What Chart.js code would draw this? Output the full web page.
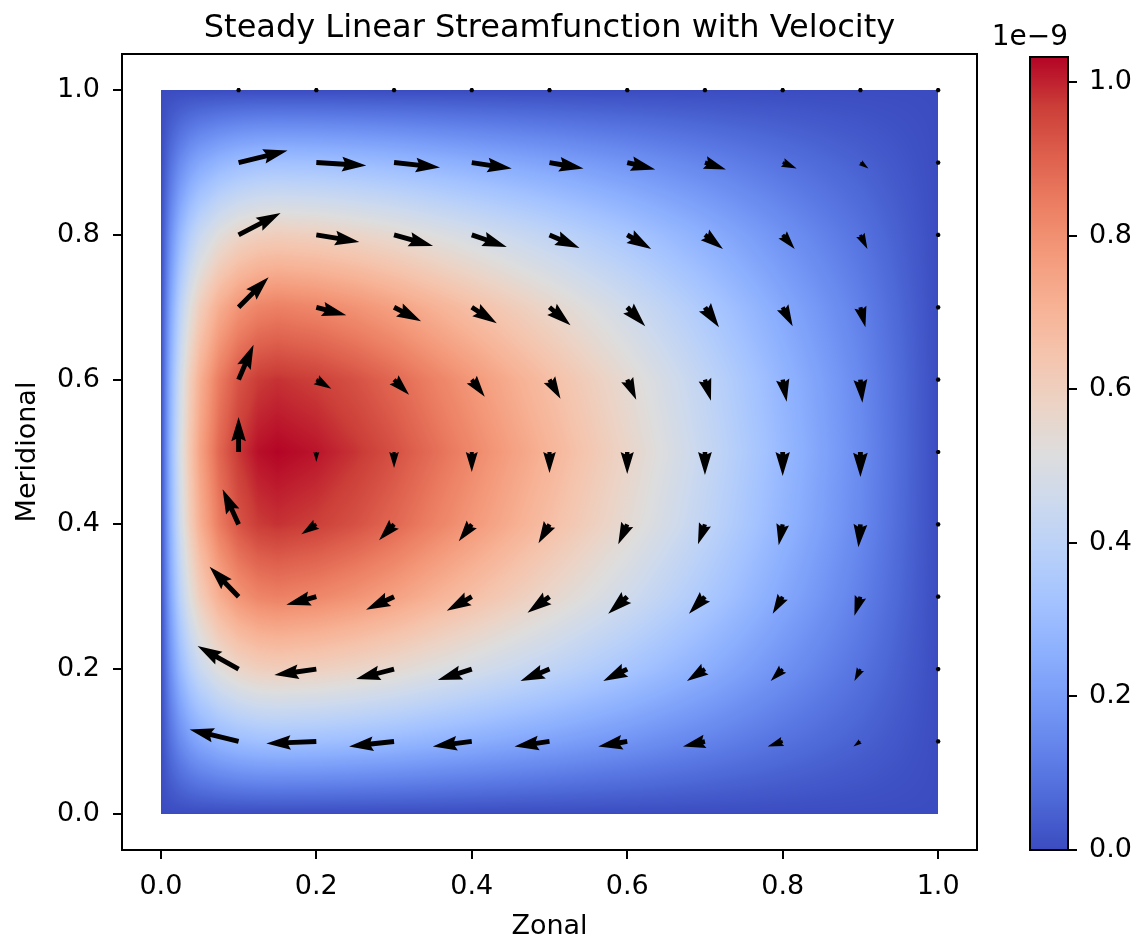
<!DOCTYPE html>
<html lang="en">
<head>
  <meta charset="UTF-8" />
  <title>Steady Linear Streamfunction with Velocity</title>
  <script src="https://cdn.jsdelivr.net/npm/chart.js"></script>
  <style>
    html, body { margin: 0; padding: 0; background: #fff; }
    #wrap { position: relative; width: 1144px; height: 943px; }
    #field { position: absolute; left: 0; top: 0; }
    #cbar { position: absolute; left: 960px; top: 0; }
  </style>
</head>
<body>
<div id="wrap">
  <canvas id="field" width="1000" height="943"></canvas>
  <canvas id="cbar" width="184" height="943"></canvas>
</div>
<script>
  // streamfunction samples, units of 1e-9; rows follow psiY, columns follow psiX
  const psiX = [0, 0.0125, 0.025, 0.0375, 0.05, 0.075, 0.1, 0.125, 0.15, 0.2, 0.25, 0.3, 0.4, 0.5, 0.6, 0.7, 0.8, 0.9, 1.0];
  const psiY = [0, 0.1, 0.2, 0.3, 0.4, 0.5, 0.6, 0.7, 0.8, 0.9, 1.0];
  const psi = [
    [0, 0, 0, 0, 0, 0, 0, 0, 0, 0, 0, 0, 0, 0, 0, 0, 0, 0, 0],
    [0, .087, .151, .198, .232, .275, .301, .315, .319, .314, .303, .289, .253, .216, .177, .134, .090, .048, 0],
    [0, .165, .288, .376, .441, .523, .573, .600, .607, .597, .576, .550, .482, .412, .337, .256, .171, .091, 0],
    [0, .227, .396, .518, .607, .720, .789, .825, .836, .821, .793, .756, .663, .566, .464, .352, .235, .125, 0],
    [0, .266, .466, .609, .713, .846, .927, .970, .982, .965, .932, .889, .780, .666, .545, .414, .276, .147, 0],
    [0, .280, .490, .640, .750, .890, .975, 1.020, 1.033, 1.015, .980, .935, .820, .700, .573, .435, .290, .155, 0],
    [0, .266, .466, .609, .713, .846, .927, .970, .982, .965, .932, .889, .780, .666, .545, .414, .276, .147, 0],
    [0, .227, .396, .518, .607, .720, .789, .825, .836, .821, .793, .756, .663, .566, .464, .352, .235, .125, 0],
    [0, .165, .288, .376, .441, .523, .573, .600, .607, .597, .576, .550, .482, .412, .337, .256, .171, .091, 0],
    [0, .087, .151, .198, .232, .275, .301, .315, .319, .314, .303, .289, .253, .216, .177, .134, .090, .048, 0],
    [0, 0, 0, 0, 0, 0, 0, 0, 0, 0, 0, 0, 0, 0, 0, 0, 0, 0, 0]
  ];

  // velocity arrows: tails on this grid, components in quiver units
  const arrowX = [0.1, 0.2, 0.3, 0.4, 0.5, 0.6, 0.7, 0.8, 0.9, 1.0];
  const arrowY = [0.1, 0.2, 0.3, 0.4, 0.5, 0.6, 0.7, 0.8, 0.9, 1.0];
  const velU = [
    [-49, -50, -45, -39, -35, -29, -22, -15, -7, 0],
    [-41, -42, -38, -34, -29, -24, -18, -12, -6, 0],
    [-29, -30, -28, -25, -22, -19, -16, -10, -6, 0],
    [-16, -15, -15, -13, -11, -9, -7, -4, -2, 0],
    [0, 0, 0, 0, 0, 0, 0, 0, 0, 0],
    [15, 15, 15, 13, 11, 9, 6, 4, 2, 0],
    [30, 30, 27, 25, 21, 18, 14, 10, 5, 0],
    [42, 43, 39, 35, 30, 24, 18, 12, 7, 0],
    [49, 50, 46, 40, 34, 28, 21, 14, 8, 0],
    [0, 0, 0, 0, 0, 0, 0, 0, 0, 0]
  ];
  const velV = [
    [12, -2, -5, -5, -5, -5, -5, -5, -5, 0],
    [23, -6, -10, -11, -12, -12, -12, -12, -12, 0],
    [30, -8, -13, -14, -16, -17, -17, -17, -19, 0],
    [35, -10, -16, -17, -19, -20, -20, -21, -23, 0],
    [35, -10, -16, -20, -21, -22, -23, -24, -25, 0],
    [35, -9, -15, -17, -19, -20, -21, -22, -23, 0],
    [30, -8, -14, -16, -18, -19, -20, -19, -20, 0],
    [22, -7, -11, -12, -13, -14, -14, -14, -14, 0],
    [12, -3, -5, -6, -6, -7, -7, -6, -6, 0],
    [0, 0, 0, 0, 0, 0, 0, 0, 0, 0]
  ];
  const arrowSpan = 855;   // quiver units across the full axes width

  const axisTicks = [0, 0.2, 0.4, 0.6, 0.8, 1.0];
  const cbarTicks = [0, 0.2, 0.4, 0.6, 0.8, 1.0];

  const FONT = 'DejaVu Sans';
  Chart.defaults.font.family = FONT;
  Chart.defaults.color = '#000';

  // coolwarm, 17 stops
  const coolwarm = [
    [59, 76, 192], [77, 104, 215], [98, 130, 234], [119, 154, 247], [141, 176, 254],
    [163, 194, 255], [184, 208, 249], [204, 217, 238], [221, 221, 221], [236, 211, 197],
    [245, 196, 173], [247, 177, 148], [244, 154, 123], [236, 127, 99], [222, 96, 77],
    [203, 62, 56], [180, 4, 38]
  ];
  function colorAt(t) {
    t = Math.min(1, Math.max(0, t)) * (coolwarm.length - 1);
    const i = Math.min(coolwarm.length - 2, Math.floor(t));
    const f = t - i, a = coolwarm[i], b = coolwarm[i + 1];
    return [a[0] + (b[0] - a[0]) * f, a[1] + (b[1] - a[1]) * f, a[2] + (b[2] - a[2]) * f];
  }

  const psiMax = Math.max(...psi.flat());

  function locate(nodes, v) {
    let i = 0;
    while (i < nodes.length - 2 && v > nodes[i + 1]) i++;
    const f = (v - nodes[i]) / (nodes[i + 1] - nodes[i]);
    return [i, Math.min(1, Math.max(0, f))];
  }

  // shaded field (gouraud-style between samples)
  const fieldPlugin = {
    id: 'psiField',
    beforeDatasetsDraw(chart) {
      const { ctx, scales: { x, y } } = chart;
      const left = Math.round(x.getPixelForValue(psiX[0]));
      const right = Math.round(x.getPixelForValue(psiX[psiX.length - 1]));
      const top = Math.round(y.getPixelForValue(psiY[psiY.length - 1]));
      const bottom = Math.round(y.getPixelForValue(psiY[0]));
      const w = right - left, h = bottom - top;
      const img = ctx.createImageData(w, h);
      const cols = [];
      for (let c = 0; c < w; c++) cols.push(locate(psiX, x.getValueForPixel(left + c + 0.5)));
      for (let r = 0; r < h; r++) {
        const [j, fy] = locate(psiY, y.getValueForPixel(top + r + 0.5));
        const lo = psi[j], hi = psi[j + 1];
        for (let c = 0; c < w; c++) {
          const [i, fx] = cols[c];
          const a = lo[i] + (lo[i + 1] - lo[i]) * fx;
          const b = hi[i] + (hi[i + 1] - hi[i]) * fx;
          const rgb = colorAt((a + (b - a) * fy) / psiMax);
          const k = (r * w + c) * 4;
          img.data[k] = rgb[0];
          img.data[k + 1] = rgb[1];
          img.data[k + 2] = rgb[2];
          img.data[k + 3] = 255;
        }
      }
      const off = document.createElement('canvas');
      off.width = w;
      off.height = h;
      off.getContext('2d').putImageData(img, 0, 0);
      ctx.drawImage(off, left, top);
    }
  };

  // arrow outline in shaft widths, pointing along +x from the tail
  function arrowShape(len) {
    if (len < 1) {
      const pts = [];
      for (let k = 0; k < 6; k++) pts.push([0.5 * Math.cos(k * Math.PI / 3), 0.5 * Math.sin(k * Math.PI / 3)]);
      return pts;
    }
    if (len < 5) {
      const s = len / 5;
      return [[0, 0.5], [0.5, 0.5], [0, 1.5], [5, 0], [0, -1.5], [0.5, -0.5], [0, -0.5]].map(([a, b]) => [a * s, b * s]);
    }
    return [[0, 0.5], [len - 4.5, 0.5], [len - 5, 1.5], [len, 0], [len - 5, -1.5], [len - 4.5, -0.5], [0, -0.5]];
  }

  const quiverPlugin = {
    id: 'quiver',
    afterDatasetsDraw(chart) {
      const { ctx, chartArea } = chart;
      const pts = chart.getDatasetMeta(0).data;
      const unit = chartArea.width / arrowSpan;
      const shaft = chartArea.width * 0.0057;
      const us = velU.flat(), vs = velV.flat();
      ctx.save();
      ctx.fillStyle = '#000';
      pts.forEach((p, k) => {
        const u = us[k] * unit, v = vs[k] * unit;
        const len = Math.hypot(u, v) / shaft;
        const ang = Math.atan2(-v, u);
        const cs = Math.cos(ang), sn = Math.sin(ang);
        ctx.beginPath();
        arrowShape(len).forEach(([a, b], n) => {
          const px = p.x + shaft * (a * cs - b * sn);
          const py = p.y + shaft * (a * sn + b * cs);
          n ? ctx.lineTo(px, py) : ctx.moveTo(px, py);
        });
        ctx.closePath();
        ctx.fill();
      });
      ctx.restore();
    }
  };

  const framePlugin = {
    id: 'frame',
    afterDraw(chart) {
      const { ctx, chartArea: a } = chart;
      ctx.save();
      ctx.strokeStyle = '#000';
      ctx.lineWidth = 2;
      ctx.strokeRect(a.left, a.top, a.width, a.height);
      ctx.restore();
    }
  };

  const tickFont = { family: FONT, size: 27 };

  new Chart(document.getElementById('field'), {
    type: 'scatter',
    data: {
      datasets: [{
        label: 'velocity',
        data: arrowY.flatMap(y => arrowX.map(x => ({ x, y }))),
        pointRadius: 0,
        showLine: false
      }]
    },
    options: {
      responsive: false,
      animation: false,
      events: [],
      layout: { padding: { left: 0, right: 23, top: 0, bottom: 0 } },
      plugins: {
        legend: { display: false },
        tooltip: { enabled: false },
        title: {
          display: true,
          text: 'Steady Linear Streamfunction with Velocity',
          fullSize: false,
          color: '#000',
          font: { family: FONT, size: 32, weight: 'normal', lineHeight: 1.2 },
          padding: { top: 9, bottom: 6.6 }
        }
      },
      scales: {
        x: {
          type: 'linear', min: -0.05, max: 1.05,
          afterBuildTicks: s => { s.ticks = axisTicks.map(v => ({ value: v })); },
          afterFit: s => { s.height = 93; },
          grid: { drawOnChartArea: false, color: '#000', lineWidth: 2, tickLength: 9 },
          border: { display: false },
          ticks: { font: tickFont, color: '#000', padding: 12, maxRotation: 0, callback: v => v.toFixed(1) },
          title: { display: true, text: 'Zonal', color: '#000', font: { family: FONT, size: 27, lineHeight: 1.2 }, padding: { top: 0, bottom: 0 } }
        },
        y: {
          type: 'linear', min: -0.05, max: 1.05,
          afterBuildTicks: s => { s.ticks = axisTicks.map(v => ({ value: v })); },
          afterFit: s => { s.width = 122; },
          grid: { drawOnChartArea: false, color: '#000', lineWidth: 2, tickLength: 9 },
          border: { display: false },
          ticks: { font: tickFont, color: '#000', padding: 13, callback: v => v.toFixed(1) },
          title: { display: true, text: 'Meridional', color: '#000', font: { family: FONT, size: 27, lineHeight: 1.2 }, padding: { top: 12, bottom: 0 } }
        }
      }
    },
    plugins: [fieldPlugin, quiverPlugin, framePlugin]
  });

  // colour bar
  const cbarPlugin = {
    id: 'cbarFill',
    beforeDatasetsDraw(chart) {
      const { ctx, chartArea: a, scales: { y } } = chart;
      for (let py = Math.floor(a.top); py < a.bottom; py++) {
        const [r, g, b] = colorAt(y.getValueForPixel(py + 0.5) / psiMax);
        ctx.fillStyle = `rgb(${Math.round(r)},${Math.round(g)},${Math.round(b)})`;
        ctx.fillRect(a.left, py, a.width, 1);
      }
    },
    afterDraw(chart) {
      const { ctx, chartArea: a } = chart;
      ctx.save();
      ctx.strokeStyle = '#000';
      ctx.lineWidth = 2;
      ctx.strokeRect(a.left, a.top, a.width, a.height);
      ctx.fillStyle = '#000';
      ctx.font = `28px "${FONT}"`;
      ctx.textAlign = 'right';
      ctx.textBaseline = 'alphabetic';
      ctx.fillText('1e\u22129', a.right, 45);
      ctx.restore();
    }
  };

  new Chart(document.getElementById('cbar'), {
    type: 'scatter',
    data: { datasets: [] },
    options: {
      responsive: false,
      animation: false,
      events: [],
      layout: { padding: { left: 70, right: 0, top: 57, bottom: 93 } },
      plugins: { legend: { display: false }, tooltip: { enabled: false } },
      scales: {
        x: { display: false, min: 0, max: 1 },
        y: {
          position: 'right', min: 0, max: psiMax,
          afterBuildTicks: s => { s.ticks = cbarTicks.map(v => ({ value: v })); },
          afterFit: s => { s.width = 76; },
          grid: { drawOnChartArea: false, color: '#000', lineWidth: 2, tickLength: 9 },
          border: { display: false },
          ticks: { font: tickFont, color: '#000', padding: 12, callback: v => v.toFixed(1) }
        }
      }
    },
    plugins: [cbarPlugin]
  });
</script>
</body>
</html>
